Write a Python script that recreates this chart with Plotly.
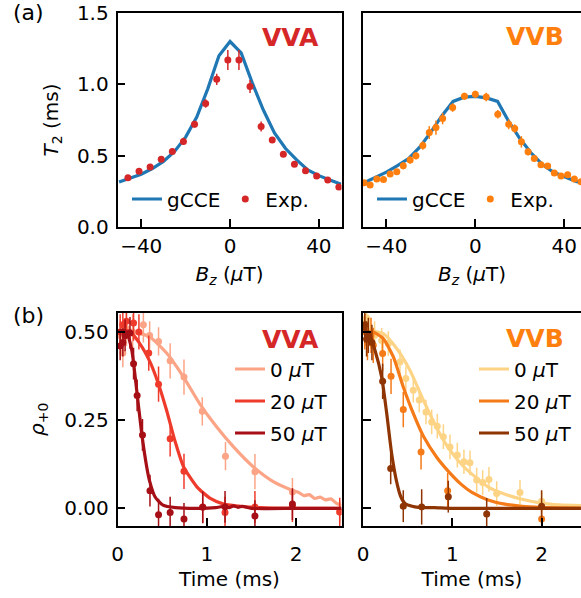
import plotly.graph_objects as go

W, H = 581, 598

# ---------------- data: (a) T2 vs Bz ----------------
bz_sim = [-50, -45, -40, -35, -30, -25, -20, -15, -10, -5, 0, 5, 10, 15, 20, 25, 30, 35, 40, 45, 50]
t2_sim_vva = [0.315, 0.34, 0.37, 0.41, 0.46, 0.53, 0.63, 0.77, 0.97, 1.20, 1.30, 1.22, 1.01, 0.82, 0.66, 0.55, 0.47, 0.40, 0.36, 0.33, 0.30]
t2_sim_vvb = [0.31, 0.345, 0.385, 0.43, 0.48, 0.56, 0.665, 0.78, 0.88, 0.91, 0.915, 0.905, 0.88, 0.74, 0.62, 0.52, 0.44, 0.385, 0.35, 0.32, 0.30]

bz_exp_vva = [-46, -41, -36, -31, -26, -21, -16, -11, -6, -1, 4, 9, 14, 19, 24, 29, 34, 39, 44, 49]
t2_exp_vva = [0.345, 0.39, 0.42, 0.475, 0.53, 0.60, 0.72, 0.865, 1.035, 1.17, 1.17, 0.985, 0.705, 0.61, 0.51, 0.44, 0.395, 0.357, 0.33, 0.28]
t2_err_vva = [0.015, 0.015, 0.015, 0.02, 0.02, 0.025, 0.025, 0.03, 0.04, 0.07, 0.07, 0.045, 0.035, 0.02, 0.015, 0.015, 0.015, 0.015, 0.015, 0.015]

bz_exp_vvb = [-50, -47.3, -44.3, -41.3, -38.3, -35.3, -32.4, -29.3, -26.7, -23.6, -20.7, -17.7, -14.7, -10.2, -4.9, 0, 4.9, 10.1, 15, 17.7, 20.7, 23.7, 26.5, 29.5, 32.5, 35.5, 38.5, 41.5, 44.5, 47.5]
t2_exp_vvb = [0.31, 0.294, 0.336, 0.333, 0.371, 0.387, 0.429, 0.469, 0.499, 0.571, 0.662, 0.697, 0.76, 0.837, 0.916, 0.93, 0.911, 0.79, 0.72, 0.69, 0.597, 0.527, 0.48, 0.436, 0.427, 0.378, 0.357, 0.366, 0.336, 0.317]
t2_err_vvb = [0.015, 0.015, 0.02, 0.02, 0.02, 0.02, 0.025, 0.025, 0.025, 0.03, 0.045, 0.05, 0.04, 0.03, 0.025, 0.025, 0.03, 0.03, 0.035, 0.03, 0.04, 0.025, 0.02, 0.02, 0.02, 0.02, 0.02, 0.02, 0.02, 0.02]

# ---------------- data: (b) rho_{+0} vs time ----------------
# VVA simulations
t_vva_0 = [0, 0.06, 0.18, 0.36, 0.55, 0.74, 0.92, 1.11, 1.30, 1.52, 1.75, 1.97, 2.03, 2.09, 2.15, 2.21, 2.27, 2.33, 2.39, 2.45, 2.51]
r_vva_0 = [0.50, 0.505, 0.50, 0.486, 0.44, 0.372, 0.297, 0.231, 0.174, 0.118, 0.075, 0.05, 0.045, 0.036, 0.039, 0.028, 0.032, 0.024, 0.027, 0.015, 0.008]
t_vva_20 = [0, 0.08, 0.14, 0.25, 0.364, 0.457, 0.55, 0.645, 0.74, 0.89, 1.04, 1.19, 1.41, 1.6, 2.0, 2.51]
r_vva_20 = [0.50, 0.505, 0.50, 0.467, 0.415, 0.354, 0.278, 0.19, 0.118, 0.061, 0.028, 0.012, 0.005, 0.002, 0.0, 0.0]
t_vva_50 = [0, 0.05, 0.10, 0.16, 0.215, 0.27, 0.327, 0.357, 0.42, 0.51, 0.65, 0.9, 1.1, 1.2, 1.25, 1.3, 1.35, 1.4, 1.5, 2.0, 2.51]
r_vva_50 = [0.50, 0.505, 0.50, 0.448, 0.335, 0.215, 0.118, 0.08, 0.033, 0.009, 0.002, 0.0, 0.002, 0.006, 0.002, 0.007, 0.003, 0.006, 0.0, 0.0, 0.0]

# VVA experiment
te_vva_0 = [0.03, 0.06, 0.10, 0.17, 0.29, 0.36, 0.46, 0.59, 0.745, 0.95, 1.21, 1.54, 1.96, 2.49]
re_vva_0 = [0.49, 0.44, 0.51, 0.50, 0.52, 0.49, 0.473, 0.418, 0.372, 0.275, 0.148, 0.104, 0.046, -0.01]
ee_vva_0 = [0.04, 0.04, 0.05, 0.05, 0.05, 0.04, 0.04, 0.05, 0.05, 0.04, 0.04, 0.05, 0.04, 0.03]
te_vva_20 = [0.03, 0.06, 0.10, 0.18, 0.24, 0.35, 0.46, 0.59, 0.745, 0.955, 1.205, 1.54, 1.96, 2.49]
re_vva_20 = [0.50, 0.52, 0.53, 0.525, 0.50, 0.44, 0.352, 0.197, 0.105, 0.004, -0.012, 0.004, 0.006, -0.01]
ee_vva_20 = [0.05, 0.05, 0.05, 0.05, 0.05, 0.05, 0.05, 0.05, 0.05, 0.045, 0.045, 0.045, 0.045, 0.04]
te_vva_50 = [0.03, 0.06, 0.085, 0.14, 0.18, 0.22, 0.28, 0.364, 0.46, 0.59, 0.745, 0.955, 1.205, 1.54, 1.96]
re_vva_50 = [0.46, 0.47, 0.49, 0.497, 0.41, 0.32, 0.208, 0.05, -0.018, -0.012, -0.03, 0.003, 0.004, -0.022, 0.012]
ee_vva_50 = [0.04, 0.04, 0.045, 0.045, 0.045, 0.045, 0.045, 0.045, 0.045, 0.045, 0.045, 0.045, 0.045, 0.045, 0.045]

# VVB simulations
t_vvb_0 = [0, 0.078, 0.227, 0.377, 0.526, 0.675, 0.825, 0.974, 1.12, 1.22, 1.40, 1.59, 1.78, 2.0, 2.2, 2.44]
r_vvb_0 = [0.52, 0.505, 0.495, 0.453, 0.391, 0.307, 0.228, 0.165, 0.12, 0.097, 0.061, 0.04, 0.026, 0.015, 0.01, 0.008]
t_vvb_20 = [0, 0.06, 0.115, 0.227, 0.34, 0.451, 0.563, 0.675, 0.825, 0.974, 1.1, 1.22, 1.40, 1.59, 1.78, 2.0, 2.44]
r_vvb_20 = [0.52, 0.50, 0.50, 0.481, 0.429, 0.344, 0.269, 0.205, 0.145, 0.10, 0.068, 0.045, 0.024, 0.012, 0.006, 0.003, 0.001]
t_vvb_50 = [0, 0.03, 0.06, 0.134, 0.209, 0.265, 0.321, 0.377, 0.42, 0.47, 0.55, 0.62, 0.8, 1.0, 1.5, 2.0, 2.44]
r_vvb_50 = [0.52, 0.50, 0.50, 0.448, 0.372, 0.27, 0.155, 0.075, 0.035, 0.014, 0.006, 0.003, 0.002, 0.0, 0.0, 0.0, 0.0]

# VVB experiment
te_vvb_0 = [0.02, 0.04, 0.08, 0.13, 0.209, 0.284, 0.414, 0.48, 0.563, 0.63, 0.705, 0.769, 0.832, 0.9, 0.974, 1.056, 1.13, 1.198, 1.273, 1.34, 1.41, 1.497, 1.758, 2.0]
re_vvb_0 = [0.53, 0.54, 0.50, 0.49, 0.476, 0.467, 0.415, 0.368, 0.335, 0.307, 0.273, 0.245, 0.233, 0.203, 0.174, 0.151, 0.132, 0.129, 0.08, 0.073, 0.082, 0.042, 0.045, 0.02]
ee_vvb_0 = [0.04, 0.04, 0.04, 0.04, 0.035, 0.035, 0.035, 0.035, 0.035, 0.035, 0.035, 0.035, 0.035, 0.035, 0.035, 0.035, 0.035, 0.035, 0.035, 0.035, 0.035, 0.035, 0.035, 0.03]
te_vvb_20 = [0.02, 0.05, 0.09, 0.115, 0.22, 0.314, 0.451, 0.65, 0.948, 2.0]
re_vvb_20 = [0.50, 0.47, 0.49, 0.462, 0.439, 0.374, 0.28, 0.16, 0.05, -0.03]
ee_vvb_20 = [0.05, 0.05, 0.05, 0.05, 0.05, 0.05, 0.05, 0.05, 0.05, 0.04]
te_vvb_50 = [0.02, 0.04, 0.06, 0.10, 0.22, 0.31, 0.451, 0.657, 0.955, 1.385, 2.0]
re_vvb_50 = [0.52, 0.48, 0.49, 0.47, 0.36, 0.113, 0.006, 0.004, 0.033, -0.016, 0.006]
ee_vvb_50 = [0.05, 0.05, 0.05, 0.05, 0.05, 0.045, 0.045, 0.05, 0.045, 0.045, 0.045]

field_labels = ["0 <i>μ</i>T", "20 <i>μ</i>T", "50 <i>μ</i>T"]
vva_colors = ["#fca486", "#ef3b2c", "#a50f15"]
vvb_colors = ["#fdd485", "#f57a18", "#8f3504"]
BLUE = "#1f77b4"
RED = "#d62728"
ORANGE = "#ff7f0e"
FONT = "DejaVu Sans"


def px_x(p):
    """window pixel -> paper fraction"""
    return p / W


def px_y(p):
    return 1 - p / H


fig = go.Figure()

# ---- (a) left: VVA
fig.add_trace(go.Scatter(x=bz_sim, y=t2_sim_vva, mode="lines", name="gCCE",
                         line=dict(color=BLUE, width=3.2), xaxis="x", yaxis="y", legend="legend"))
fig.add_trace(go.Scatter(x=bz_exp_vva, y=t2_exp_vva, mode="markers", name="Exp.",
                         marker=dict(color=RED, size=7),
                         error_y=dict(type="data", array=t2_err_vva, color=RED, thickness=1.5, width=0),
                         xaxis="x", yaxis="y", legend="legend"))
# ---- (a) right: VVB
fig.add_trace(go.Scatter(x=bz_sim, y=t2_sim_vvb, mode="lines", name="gCCE",
                         line=dict(color=BLUE, width=3.2), xaxis="x2", yaxis="y2", legend="legend2"))
fig.add_trace(go.Scatter(x=bz_exp_vvb, y=t2_exp_vvb, mode="markers", name="Exp.",
                         marker=dict(color=ORANGE, size=7),
                         error_y=dict(type="data", array=t2_err_vvb, color=ORANGE, thickness=1.5, width=0),
                         xaxis="x2", yaxis="y2", legend="legend2"))

# ---- (b) left: VVA
vva_sets = [(t_vva_0, r_vva_0, te_vva_0, re_vva_0, ee_vva_0),
            (t_vva_20, r_vva_20, te_vva_20, re_vva_20, ee_vva_20),
            (t_vva_50, r_vva_50, te_vva_50, re_vva_50, ee_vva_50)]
for i, ((ts, rs, te, re, ee), col, lab) in enumerate(zip(vva_sets, vva_colors, field_labels)):
    fig.add_trace(go.Scatter(x=te, y=re, mode="markers", showlegend=False,
                             marker=dict(color=col, size=7),
                             error_y=dict(type="data", array=ee, color=col, thickness=1.5, width=0),
                             xaxis="x3", yaxis="y3"))
    fig.add_trace(go.Scatter(x=ts, y=rs, mode="lines", name=lab, legendgroup=f"a{i}",
                             line=dict(color=col, width=3.2, shape="spline", smoothing=0.6),
                             xaxis="x3", yaxis="y3", legend="legend3"))

# ---- (b) right: VVB
vvb_sets = [(t_vvb_0, r_vvb_0, te_vvb_0, re_vvb_0, ee_vvb_0),
            (t_vvb_20, r_vvb_20, te_vvb_20, re_vvb_20, ee_vvb_20),
            (t_vvb_50, r_vvb_50, te_vvb_50, re_vvb_50, ee_vvb_50)]
for i, ((ts, rs, te, re, ee), col, lab) in enumerate(zip(vvb_sets, vvb_colors, field_labels)):
    fig.add_trace(go.Scatter(x=te, y=re, mode="markers", showlegend=False,
                             marker=dict(color=col, size=7),
                             error_y=dict(type="data", array=ee, color=col, thickness=1.5, width=0),
                             xaxis="x4", yaxis="y4"))
    fig.add_trace(go.Scatter(x=ts, y=rs, mode="lines", name=lab, legendgroup=f"b{i}",
                             line=dict(color=col, width=3.2, shape="spline", smoothing=0.6),
                             xaxis="x4", yaxis="y4", legend="legend4"))

tickfont = dict(family=FONT, size=20, color="black")
axis_common = dict(showline=True, linecolor="black", linewidth=1.6, ticks="inside",
                   ticklen=8, tickwidth=1.5, tickcolor="black", showgrid=False,
                   zeroline=False, tickfont=tickfont, automargin=False)

left_dom = [px_x(117.5), px_x(341.5)]
right_dom = [px_x(363), 1.0]
top_dom = [px_y(227), px_y(13)]
bot_dom = [px_y(526), px_y(312.5)]

title_font = dict(family=FONT, size=20, color="black")
bz_title = dict(text="<i>B<sub>z</sub></i> (<i>μ</i>T)", font=title_font, standoff=10)
time_title = dict(text="Time (ms)", font=title_font, standoff=7)

legend_common = dict(xanchor="left", yanchor="middle", bgcolor="rgba(0,0,0,0)",
                     font=dict(family=FONT, size=20, color="black"), itemwidth=30)

fig.update_layout(
    width=W, height=H, autosize=False,
    margin=dict(l=0, r=0, t=0, b=0),
    paper_bgcolor="white", plot_bgcolor="white",
    font=dict(family=FONT, size=20, color="black"),
    xaxis=dict(domain=left_dom, anchor="y", range=[-50.7, 50.2], tickvals=[-40, 0, 40],
               mirror=True, title=bz_title, **axis_common),
    yaxis=dict(domain=top_dom, anchor="x", range=[0, 1.5], tickvals=[0, 0.5, 1.0, 1.5],
               tickformat=".1f", mirror=True, ticklabelstandoff=3,
               title=dict(text="<i>T</i><sub>2</sub> (ms)", font=title_font, standoff=13),
               **axis_common),
    xaxis2=dict(domain=right_dom, anchor="y2", range=[-50.5, 47.5], tickvals=[-40, 0, 40],
                mirror=True, title=bz_title, **axis_common),
    yaxis2=dict(domain=top_dom, anchor="x2", range=[0, 1.5], tickvals=[0, 0.5, 1.0, 1.5],
                showticklabels=False, mirror=False, **axis_common),
    xaxis3=dict(domain=left_dom, anchor="y3", range=[0, 2.51], tickvals=[0, 1, 2],
                mirror=True, ticklabelstandoff=9, title=time_title, **axis_common),
    yaxis3=dict(domain=bot_dom, anchor="x3", range=[-0.05, 0.555], tickvals=[0, 0.25, 0.5],
                tickformat=".2f", mirror=True, ticklabelstandoff=3,
                title=dict(text="<i>ρ</i><sub>+0</sub>", font=title_font, standoff=14),
                **axis_common),
    xaxis4=dict(domain=right_dom, anchor="y4", range=[0, 2.441], tickvals=[0, 1, 2],
                mirror=True, ticklabelstandoff=9, title=time_title, **axis_common),
    yaxis4=dict(domain=bot_dom, anchor="x4", range=[-0.05, 0.555], tickvals=[0, 0.25, 0.5],
                showticklabels=False, mirror=False, **axis_common),
    legend=dict(x=px_x(127), y=px_y(199), orientation="h", **legend_common),
    legend2=dict(x=px_x(372), y=px_y(199), orientation="h", **legend_common),
    legend3=dict(x=px_x(230), y=px_y(401), orientation="v", tracegroupgap=3, **legend_common),
    legend4=dict(x=px_x(474), y=px_y(401), orientation="v", tracegroupgap=3, **legend_common),
)

annotations = [
    dict(text="<b>VVA</b>", x=px_x(290), y=px_y(37.5), font=dict(family=FONT, size=25, color=RED)),
    dict(text="<b>VVB</b>", x=px_x(534.5), y=px_y(37), font=dict(family=FONT, size=25, color=ORANGE)),
    dict(text="<b>VVA</b>", x=px_x(290), y=px_y(339), font=dict(family=FONT, size=25, color=RED)),
    dict(text="<b>VVB</b>", x=px_x(534.5), y=px_y(338), font=dict(family=FONT, size=25, color=ORANGE)),
    dict(text="(a)", x=px_x(11), y=px_y(13), xanchor="left", font=dict(family=FONT, size=22, color="black")),
    dict(text="(b)", x=px_x(11), y=px_y(315), xanchor="left", font=dict(family=FONT, size=22, color="black")),
]
for a in annotations:
    a.update(xref="paper", yref="paper", showarrow=False, yanchor="middle",
             xanchor=a.get("xanchor", "center"))
    fig.add_annotation(**a)

# remove the browser's default 8 px body margin so the figure fills the 581x598 window exactly
fig.write_html("out.html", config={"displayModeBar": False},
               post_script="document.body.style.margin='0px';document.body.style.overflow='hidden';")
